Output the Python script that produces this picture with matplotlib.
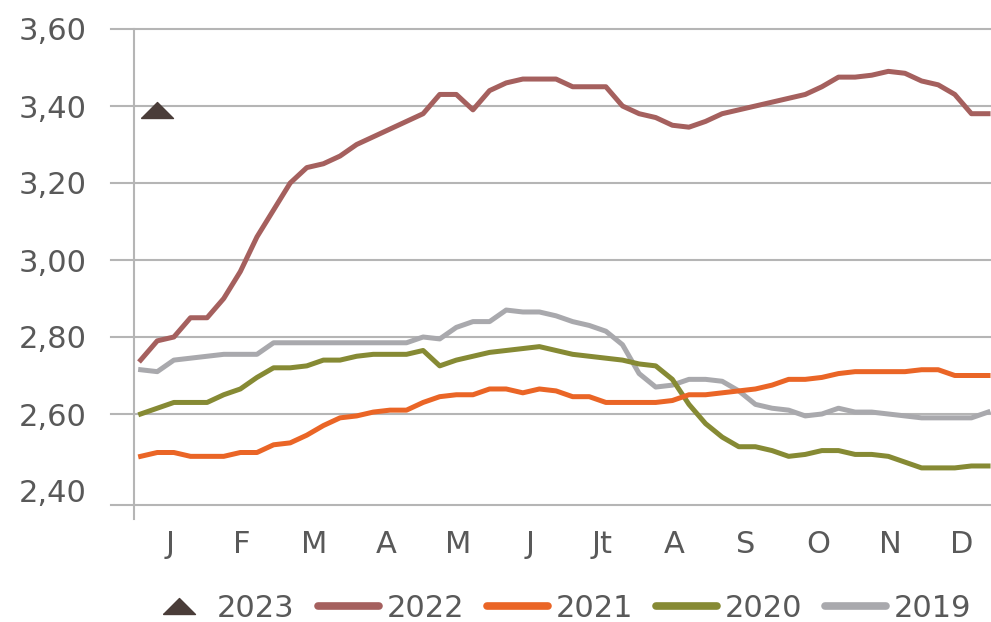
import matplotlib
matplotlib.use("Agg")
import matplotlib.pyplot as plt
import numpy as np

# weekly values, one per week of the year
weeks = list(range(52))
months = ["J", "F", "M", "A", "M", "J", "Jt", "A", "S", "O", "N", "D"]
y_ticks = [2.40, 2.60, 2.80, 3.00, 3.20, 3.40, 3.60]
y_labels = ["2,40", "2,60", "2,80", "3,00", "3,20", "3,40", "3,60"]

s2023 = [None, 3.39] + [None] * 50

s2022 = [2.74, 2.79, 2.80, 2.85, 2.85, 2.90, 2.97, 3.06, 3.13, 3.20,
         3.24, 3.25, 3.27, 3.30, 3.32, 3.34, 3.36, 3.38, 3.43, 3.43,
         3.39, 3.44, 3.46, 3.47, 3.47, 3.47, 3.45, 3.45, 3.45, 3.40,
         3.38, 3.37, 3.35, 3.345, 3.36, 3.38, 3.39, 3.40, 3.41, 3.42,
         3.43, 3.45, 3.475, 3.475, 3.48, 3.49, 3.485, 3.465, 3.455, 3.43,
         3.38, 3.38]

s2021 = [2.49, 2.50, 2.50, 2.49, 2.49, 2.49, 2.50, 2.50, 2.52, 2.525,
         2.545, 2.57, 2.59, 2.595, 2.605, 2.61, 2.61, 2.63, 2.645, 2.65,
         2.65, 2.665, 2.665, 2.655, 2.665, 2.66, 2.645, 2.645, 2.63, 2.63,
         2.63, 2.63, 2.635, 2.65, 2.65, 2.655, 2.66, 2.665, 2.675, 2.69,
         2.69, 2.695, 2.705, 2.71, 2.71, 2.71, 2.71, 2.715, 2.715, 2.70,
         2.70, 2.70]

s2020 = [2.60, 2.615, 2.63, 2.63, 2.63, 2.65, 2.665, 2.695, 2.72, 2.72,
         2.725, 2.74, 2.74, 2.75, 2.755, 2.755, 2.755, 2.765, 2.725, 2.74,
         2.75, 2.76, 2.765, 2.77, 2.775, 2.765, 2.755, 2.75, 2.745, 2.74,
         2.73, 2.725, 2.69, 2.625, 2.575, 2.54, 2.515, 2.515, 2.505, 2.49,
         2.495, 2.505, 2.505, 2.495, 2.495, 2.49, 2.475, 2.46, 2.46, 2.46,
         2.465, 2.465]

s2019 = [2.715, 2.71, 2.74, 2.745, 2.75, 2.755, 2.755, 2.755, 2.785, 2.785,
         2.785, 2.785, 2.785, 2.785, 2.785, 2.785, 2.785, 2.80, 2.795, 2.825,
         2.84, 2.84, 2.87, 2.865, 2.865, 2.855, 2.84, 2.83, 2.815, 2.78,
         2.705, 2.67, 2.675, 2.69, 2.69, 2.685, 2.66, 2.625, 2.615, 2.61,
         2.595, 2.60, 2.615, 2.605, 2.605, 2.60, 2.595, 2.59, 2.59, 2.59,
         2.59, 2.605]

col_2023 = "#4A3D39"
col_2022 = "#A5605E"
col_2021 = "#EA6526"
col_2020 = "#868A34"
col_2019 = "#A9A9AD"
grid_col = "#B5B5B5"
text_col = "#595959"

fig = plt.figure(figsize=(9.91, 6.22), dpi=100)
ax = fig.add_axes([134 / 991, 1 - 505 / 622, 857 / 991, 476 / 622])

tri = [(-1, -0.5), (1, -0.5), (0, 0.5), (-1, -0.5)]

def to_arr(s):
    return np.array([np.nan if v is None else v for v in s], dtype=float)

lw = 3.6
ax.plot(weeks, to_arr(s2019), color=col_2019, lw=lw, label="2019", zorder=3)
ax.plot(weeks, to_arr(s2020), color=col_2020, lw=lw, label="2020", zorder=4)
ax.plot(weeks, to_arr(s2021), color=col_2021, lw=lw, label="2021", zorder=5)
ax.plot(weeks, to_arr(s2022), color=col_2022, lw=lw, label="2022", zorder=6)
ax.plot(weeks, to_arr(s2023), color=col_2023, lw=0, marker=tri, markersize=23,
        label="2023", zorder=7)

ylo = 3.60 - 476 / 385
ax.set_ylim(ylo, 3.60)
ax.set_xlim(-0.4, -0.4 + 857 / (72 * 12 / 52))

for sp in ax.spines.values():
    sp.set_visible(False)

# gridlines reaching a bit left of the axis
for y in [2.60, 2.80, 3.00, 3.20, 3.40, 3.60, ylo]:
    ax.axhline(y, xmin=-0.027, xmax=1, color=grid_col, lw=1.5, clip_on=False, zorder=1)
ax.axvline(-0.4, ymin=-14 / 476, ymax=1, color=grid_col, lw=1.5, clip_on=False, zorder=1)

ax.set_yticks(y_ticks)
ax.set_yticklabels(y_labels)
month_pos = [(m + 0.5) * 52 / 12 - 0.4 for m in range(12)]
ax.set_xticks(month_pos)
ax.set_xticklabels(months)
ax.tick_params(axis="y", length=0, pad=34, labelsize=22, labelcolor=text_col)
ax.tick_params(axis="x", length=0, pad=18, labelsize=22, labelcolor=text_col)

handles, labels = ax.get_legend_handles_labels()
order = [4, 3, 2, 1, 0]
leg = fig.legend([handles[i] for i in order], [labels[i] for i in order],
                 loc="center", bbox_to_anchor=(0.565, 0.022), ncol=5, frameon=False,
                 fontsize=22, labelcolor=text_col, handlelength=2.0,
                 handletextpad=0.25, columnspacing=0.75, borderpad=0)
for ln in leg.get_lines():
    if ln.get_linewidth() > 0:
        ln.set_linewidth(5.5)
        ln.set_solid_capstyle("round")

fig.savefig("out.png", dpi=100)
